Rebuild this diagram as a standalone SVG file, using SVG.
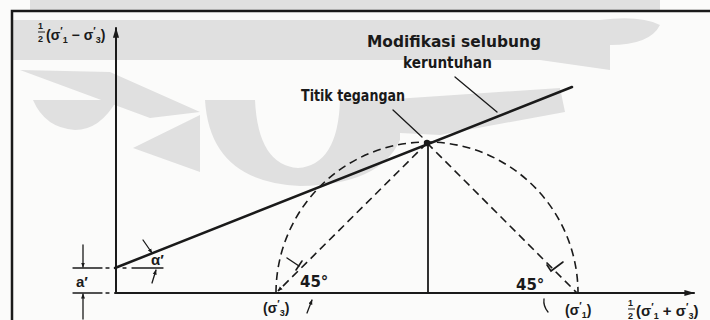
<svg xmlns="http://www.w3.org/2000/svg" width="710" height="320" viewBox="0 0 710 320">
<style>
.bg{fill:#fbfbfa}
.wm{fill:#e0e0e0}
.ln{stroke:#1a1a1a;fill:none;stroke-linecap:round}
.dash{stroke:#1a1a1a;fill:none;stroke-width:1.6;stroke-dasharray:8 5}
.t{font-family:"DejaVu Sans","Liberation Sans",sans-serif;fill:#1a1a1a;font-weight:bold}
.s{font-family:"Liberation Sans",Arial,sans-serif;fill:#1a1a1a;font-weight:bold}
</style>
<defs>
<marker id="ah" viewBox="0 0 10 10" refX="9" refY="5" markerWidth="5" markerHeight="5" orient="auto-start-reverse" markerUnits="userSpaceOnUse">
<path d="M0,1 L10,5 L0,9 Z" fill="#1a1a1a"/>
</marker>
<marker id="ax" viewBox="0 0 12 8" refX="11" refY="4" markerWidth="12" markerHeight="7" orient="auto" markerUnits="userSpaceOnUse">
<path d="M0,0.5 L12,4 L0,7.5 Z" fill="#1a1a1a"/>
</marker>
</defs>
<rect class="bg" x="0" y="0" width="710" height="320"/>
<g id="watermark">
<path class="wm" d="M30,0 H660 V10 H30 Z"/>
<path class="wm" d="M13,20 H600 Q640,15 660,25 Q650,45 610,45 L610,70 L540,60 H13 Z"/>
<path class="wm" d="M20,70 L110,72 L200,112 L150,118 Z"/>
<path class="wm" d="M33,100 H117 Q100,130 75,130 Q45,128 33,100 Z"/>
<path class="wm" d="M133,148 L200,115 L200,172 Z"/>
<path class="wm" d="M205,100 H255 Q258,165 298,168 Q338,165 340,100 H400 L400,140 Q380,185 300,186 Q210,182 205,100 Z"/>
<path class="wm" d="M380,100 L560,88 L565,112 L440,135 L380,132 Z"/>
</g>
<g id="frame">
<path class="ln" d="M12,320 V11 H710" stroke-width="2.5" stroke-linecap="butt"/>
</g>
<g id="axes">
<line class="ln" x1="116" y1="293" x2="116" y2="28" stroke-width="2" marker-end="url(#ax)"/>
<line class="ln" x1="115" y1="293" x2="694" y2="293" stroke-width="2" marker-end="url(#ax)"/>
<text class="s" font-size="9" x="38" y="29">1</text>
<line x1="38" y1="32" x2="45" y2="32" stroke="#1a1a1a" stroke-width="1"/>
<text class="s" font-size="9" x="38" y="42">2</text>
<text class="s" font-size="14" x="46" y="40">(σ<tspan font-size="10" dy="-5">′</tspan><tspan font-size="9" dy="8">1</tspan><tspan dy="-3"> − σ</tspan><tspan font-size="10" dy="-5">′</tspan><tspan font-size="9" dy="8">3</tspan><tspan dy="-3">)</tspan></text>
<text class="s" font-size="9" x="628" y="306">1</text>
<line x1="628" y1="309" x2="635" y2="309" stroke="#1a1a1a" stroke-width="1"/>
<text class="s" font-size="9" x="628" y="319">2</text>
<text class="s" font-size="15" x="636" y="316">(σ<tspan font-size="10" dy="-5">′</tspan><tspan font-size="9" dy="8">1</tspan><tspan dy="-3"> + σ</tspan><tspan font-size="10" dy="-5">′</tspan><tspan font-size="9" dy="8">3</tspan><tspan dy="-3">)</tspan></text>
</g>
<g id="envelope">
<line class="ln" x1="115" y1="268" x2="572" y2="87" stroke-width="2.5"/>
</g>
<g id="mohr-circle">
<path class="dash" d="M276,293 A151,151 0 0 1 578,293"/>
<line class="dash" x1="427" y1="143" x2="278" y2="291" marker-end="url(#ah)"/>
<line class="dash" x1="427" y1="143" x2="577" y2="293"/>
</g>
<g id="stress-point">
<line class="ln" x1="428" y1="143" x2="428" y2="293" stroke-width="1.8"/>
<circle cx="427" cy="143" r="3.2" fill="#1a1a1a"/>
</g>
<g id="connectors">
<line class="ln" x1="455" y1="77" x2="497" y2="112" stroke-width="1.3"/>
<line class="ln" x1="393" y1="110" x2="422" y2="137" stroke-width="1.3"/>
</g>
<g id="labels">
<text class="t" font-size="15" x="367" y="47" textLength="174" lengthAdjust="spacingAndGlyphs">Modifikasi selubung</text>
<text class="t" font-size="15" x="403" y="68" textLength="89" lengthAdjust="spacingAndGlyphs">keruntuhan</text>
<text class="t" font-size="15" x="301" y="101" textLength="104" lengthAdjust="spacingAndGlyphs">Titik tegangan</text>
</g>
<g id="intercept-a">
<line class="ln" x1="83" y1="245" x2="83" y2="267" stroke-width="1.3" marker-end="url(#ah)"/>
<line class="ln" x1="83" y1="319" x2="83" y2="294" stroke-width="1.3" marker-end="url(#ah)"/>
<line class="ln" x1="73" y1="268" x2="102" y2="268" stroke-width="1.3"/>
<line class="ln" x1="106" y1="268" x2="109" y2="268" stroke-width="1.3"/>
<line class="ln" x1="73" y1="293" x2="102" y2="293" stroke-width="1.3"/>
<line class="ln" x1="106" y1="293" x2="109" y2="293" stroke-width="1.3"/>
<text class="s" font-size="15" x="76" y="287">a′</text>
</g>
<g id="angle-alpha">
<line class="ln" x1="123" y1="268" x2="126" y2="268" stroke-width="1.3"/>
<line class="ln" x1="132" y1="268" x2="163" y2="268" stroke-width="1.3"/>
<line class="ln" x1="143" y1="240" x2="152" y2="253" stroke-width="1.3" marker-end="url(#ah)"/>
<line class="ln" x1="152" y1="283" x2="156" y2="270" stroke-width="1.3" marker-end="url(#ah)"/>
<text class="s" font-size="15" x="151" y="265">α′</text>
</g>
<g id="angle-45-left">
<line class="ln" x1="287" y1="258" x2="299" y2="266" stroke-width="1.4"/>
<line class="ln" x1="296" y1="270" x2="302" y2="261" stroke-width="1.6"/>
<text class="t" font-size="15" x="300" y="287">45°</text>
<text class="s" font-size="14" x="263" y="313">(σ<tspan font-size="10" dy="-5">′</tspan><tspan font-size="9" dy="8">3</tspan><tspan dy="-3">)</tspan></text>
<path class="ln" d="M307,313 L312,300" stroke-width="1.3" marker-end="url(#ah)"/>
</g>
<g id="angle-45-right">
<polyline class="ln" points="547,265 551,271 563,262" stroke-width="1.6"/>
<text class="t" font-size="15" x="516" y="290">45°</text>
<text class="s" font-size="14" x="565" y="315">(σ<tspan font-size="10" dy="-5">′</tspan><tspan font-size="9" dy="8">1</tspan><tspan dy="-3">)</tspan></text>
<path class="ln" d="M544,299 Q543,306 548,312" stroke-width="1.3"/>
</g>
</svg>
